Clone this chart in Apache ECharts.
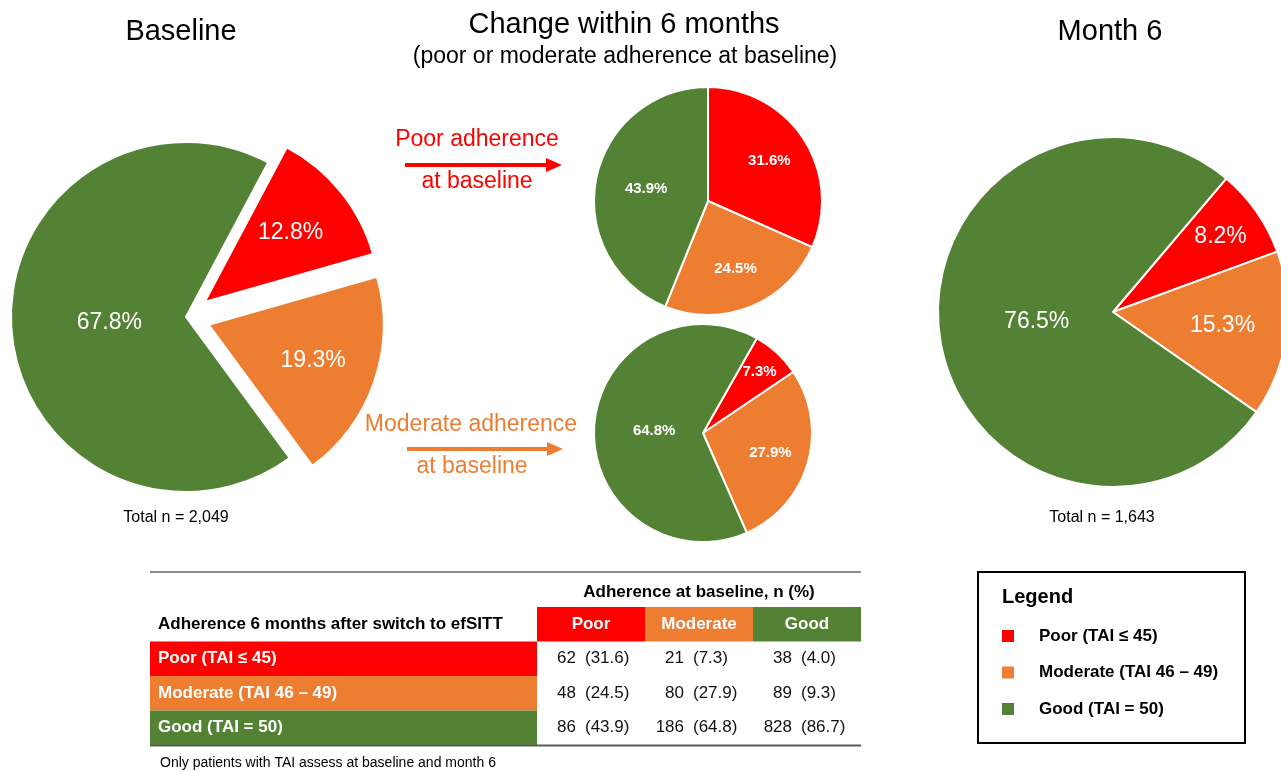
<!DOCTYPE html>
<html>
<head>
<meta charset="utf-8">
<script src="https://cdn.jsdelivr.net/npm/echarts@6/dist/echarts.min.js"></script>
<style>
html,body{margin:0;padding:0;background:#fff;}
#c{width:1281px;height:772px;}
</style>
</head>
<body>
<div id="c"></div>
<script>
// ---------------- DATA ----------------
const categories = ['Poor (TAI ≤ 45)', 'Moderate (TAI 46 – 49)', 'Good (TAI = 50)'];
const baselinePct = [12.8, 19.3, 67.8];
const month6Pct = [8.2, 15.3, 76.5];
const baselineGroups = ['Poor', 'Moderate', 'Good'];
// rows: adherence at month 6 (Poor, Moderate, Good); columns: adherence at baseline (Poor, Moderate, Good)
const countsN = [[62, 21, 38], [48, 80, 89], [86, 186, 828]];
const countsPct = [[31.6, 7.3, 4.0], [24.5, 27.9, 9.3], [43.9, 64.8, 86.7]];
const baselineTotal = '2,049';
const month6Total = '1,643';
const texts = {
  baseline: 'Baseline',
  change: 'Change within 6 months',
  changeSub: '(poor or moderate adherence at baseline)',
  month6: 'Month 6',
  poorArrow: ['Poor adherence', 'at baseline'],
  modArrow: ['Moderate adherence', 'at baseline'],
  tableTop: 'Adherence at baseline, n (%)',
  tableRowHead: 'Adherence 6 months after switch to efSITT',
  footnote: 'Only patients with TAI assess at baseline and month 6',
  legendTitle: 'Legend'
};

// ---------------- STYLE ----------------
const FF = '"Liberation Sans", Arial, Helvetica, sans-serif';
const COLORS = ['#FF0000', '#ED7D31', '#548235'];

const poorCol = countsN.map(r => r[0]);
const modCol = countsN.map(r => r[1]);

function radialLayout(cx, cy, values) {
  const total = values.reduce((a, b) => a + b, 0);
  return function (p) {
    const share = values[p.dataIndex] / total;
    const k = share > 0.6 ? 0.85 : share > 0.4 ? 1.05 : share > 0.1 ? 1.22 : 1.45;
    const r = p.labelRect;
    const lx = r.x + r.width / 2, ly = r.y + r.height / 2;
    return { dx: (lx - cx) * (k - 1), dy: (ly - cy) * (k - 1) };
  };
}

function makePie(name, values, center, radius, startAngle, label, explode) {
  return {
    type: 'pie',
    name: name,
    center: center,
    radius: radius,
    startAngle: startAngle,
    clockwise: true,
    avoidLabelOverlap: false,
    selectedMode: explode ? 'multiple' : false,
    selectedOffset: 24,
    percentPrecision: 1,
    animation: false,
    emphasis: { disabled: true },
    itemStyle: { borderColor: '#ffffff', borderWidth: 2 },
    label: Object.assign({ show: true, position: 'inside', color: '#ffffff', fontFamily: FF }, label),
    labelLine: { show: false },
    labelLayout: radialLayout(center[0], center[1], values),
    data: values.map((v, i) => ({
      name: categories[i],
      value: v,
      selected: !!(explode && explode[i]),
      itemStyle: { color: COLORS[i] }
    }))
  };
}

const series = [
  makePie('Baseline', baselinePct, [186, 317], 175, 62,
    { fontSize: 23, formatter: p => p.value.toFixed(1) + '%' }, [true, true, false]),
  makePie('Poor at baseline', poorCol, [708, 201], 114, 90,
    { fontSize: 15, fontWeight: 'bold', formatter: '{d}%' }),
  makePie('Moderate at baseline', modCol, [703, 433], 109, 60.4,
    { fontSize: 15, fontWeight: 'bold', formatter: '{d}%' }),
  makePie('Month 6', month6Pct, [1113, 312], 175, 49.7,
    { fontSize: 23, formatter: p => p.value.toFixed(1) + '%' })
];

// ---------------- GRAPHIC (titles, arrows, table, legend box) ----------------
function txt(text, x, y, size, opts) {
  opts = opts || {};
  return {
    type: 'text', x: x, y: y, silent: true,
    style: {
      text: text,
      font: (opts.bold ? 'bold ' : '') + size + 'px ' + FF,
      fill: opts.color || '#000',
      align: opts.align || 'center',
      verticalAlign: 'middle'
    }
  };
}
function arrow(x1, x2, y, color) {
  return [
    { type: 'line', silent: true, shape: { x1: x1, y1: y, x2: x2 - 14, y2: y }, style: { stroke: color, lineWidth: 4 } },
    { type: 'polygon', silent: true, shape: { points: [[x2 - 16, y - 7], [x2, y], [x2 - 16, y + 7]] }, style: { fill: color } }
  ];
}

const g = [];
g.push(txt(texts.baseline, 181, 32, 29));
g.push(txt(texts.change, 624, 25, 29));
g.push(txt(texts.changeSub, 625, 57, 23));
g.push(txt(texts.month6, 1110, 32, 29));
g.push(txt('Total n = ' + baselineTotal, 176, 518, 16));
g.push(txt('Total n = ' + month6Total, 1102, 518, 16));

g.push(txt(texts.poorArrow[0], 477, 140, 23, { color: COLORS[0] }));
g.push(txt(texts.poorArrow[1], 477, 182, 23, { color: COLORS[0] }));
g.push(...arrow(405, 562, 165, COLORS[0]));
g.push(txt(texts.modArrow[0], 471, 425, 23, { color: COLORS[1] }));
g.push(txt(texts.modArrow[1], 472, 467, 23, { color: COLORS[1] }));
g.push(...arrow(407, 563, 449, COLORS[1]));

// table
const T = { left: 150, labelRight: 537, colW: 108, headTop: 607, headH: 34.5, rowH: 34.5 };
const tableRight = T.labelRight + T.colW * baselineGroups.length;
g.push({ type: 'rect', silent: true, shape: { x: T.left, y: 571, width: tableRight - T.left, height: 2 }, style: { fill: '#8c8c8c' } });
g.push(txt(texts.tableTop, (T.labelRight + tableRight) / 2, 592, 17, { bold: true }));
g.push(txt(texts.tableRowHead, 158, T.headTop + T.headH / 2, 17, { bold: true, align: 'left' }));
baselineGroups.forEach((name, j) => {
  const x = T.labelRight + j * T.colW;
  g.push({ type: 'rect', silent: true, shape: { x: x, y: T.headTop, width: T.colW, height: T.headH }, style: { fill: COLORS[j] } });
  g.push(txt(name, x + T.colW / 2, T.headTop + T.headH / 2, 17, { bold: true, color: '#fff' }));
});
categories.forEach((name, i) => {
  const y = T.headTop + T.headH + i * T.rowH;
  g.push({ type: 'rect', silent: true, shape: { x: T.left, y: y, width: T.labelRight - T.left, height: T.rowH }, style: { fill: COLORS[i] } });
  g.push(txt(name, 158, y + T.rowH / 2, 17, { bold: true, color: '#fff', align: 'left' }));
  baselineGroups.forEach((gname, j) => {
    const x = T.labelRight + j * T.colW;
    g.push(txt(String(countsN[i][j]), x + 39, y + T.rowH / 2, 17, { align: 'right', color: '#111' }));
    g.push(txt('(' + countsPct[i][j].toFixed(1) + ')', x + 48, y + T.rowH / 2, 17, { align: 'left', color: '#111' }));
  });
});
const tableBottom = T.headTop + T.headH + categories.length * T.rowH;
g.push({ type: 'rect', silent: true, shape: { x: T.left, y: tableBottom - 0.5, width: tableRight - T.left, height: 2 }, style: { fill: '#595959' } });
g.push(txt(texts.footnote, 160, 763, 14, { align: 'left' }));

// legend box
g.push({ type: 'rect', silent: true, shape: { x: 978, y: 572, width: 267, height: 171 }, style: { fill: 'none', stroke: '#000', lineWidth: 2 } });
g.push(txt(texts.legendTitle, 1002, 597, 20, { bold: true, align: 'left' }));

const option = {
  backgroundColor: '#ffffff',
  animation: false,
  legend: {
    orient: 'vertical',
    left: 1000,
    top: 626,
    padding: 0,
    itemWidth: 14,
    itemHeight: 14,
    itemGap: 16.5,
    icon: 'rect',
    selectedMode: false,
    data: categories,
    textStyle: { fontFamily: FF, fontSize: 17, fontWeight: 'bold', color: '#000', lineHeight: 20, padding: [0, 0, 0, 19] }
  },
  series: series,
  graphic: { elements: g }
};

const chart = echarts.init(document.getElementById('c'), null, { renderer: 'canvas' });
chart.setOption(option);
</script>
</body>
</html>
